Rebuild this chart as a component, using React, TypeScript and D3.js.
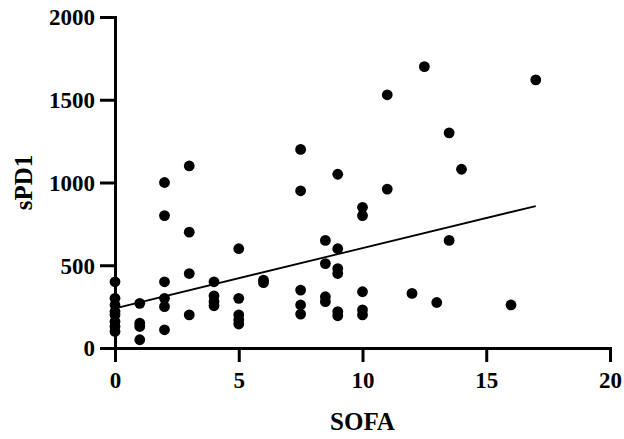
import React, { useEffect, useRef } from "react"
import * as d3 from "d3"

// one entry per patient
const sofa = [
  0, 0, 0, 0, 0, 0, 0, 0,
  1, 1, 1, 1,
  2, 2, 2, 2, 2, 2,
  3, 3, 3, 3,
  4, 4, 4, 4,
  5, 5, 5, 5, 5,
  6, 6,
  7.5, 7.5, 7.5, 7.5, 7.5,
  8.5, 8.5, 8.5, 8.5,
  9, 9, 9, 9, 9, 9,
  10, 10, 10, 10, 10,
  11, 11,
  12, 12.5, 13,
  13.5, 13.5,
  14, 16, 17,
]
const spd1 = [
  400, 300, 260, 220, 200, 160, 130, 100,
  270, 150, 130, 50,
  1000, 800, 400, 300, 250, 110,
  1100, 700, 450, 200,
  400, 315, 280, 255,
  600, 300, 200, 170, 145,
  410, 395,
  1200, 950, 350, 260, 205,
  650, 510, 310, 280,
  1050, 600, 480, 450, 220, 195,
  850, 800, 340, 230, 200,
  1530, 960,
  330, 1700, 275,
  1300, 650,
  1080, 260, 1620,
]
// fitted line as printed in the figure (start / end in data units)
const fitSofa = [0, 17]
const fitSpd1 = [240, 858]

const xTicks = [0, 5, 10, 15, 20]
const yTicks = [0, 500, 1000, 1500, 2000]

const width = 624
const height = 439
const margin = { top: 17, right: 14, bottom: 91, left: 115 }
const font = "Liberation Serif, Times New Roman, serif"

export default function App() {
  const ref = useRef<SVGSVGElement>(null)

  useEffect(() => {
    const svg = d3.select(ref.current)
    svg.selectAll("*").remove()

    const x = d3.scaleLinear().domain([0, 20]).range([margin.left, width - margin.right])
    const y = d3.scaleLinear().domain([0, 2000]).range([height - margin.bottom, margin.top])

    const points = sofa.map((s, i) => ({ s, v: spd1[i] }))
    const fit = fitSofa.map((s, i) => [s, fitSpd1[i]] as [number, number])

    svg.append("path")
      .datum(fit)
      .attr("d", d3.line<[number, number]>().x(d => x(d[0])).y(d => y(d[1])))
      .attr("fill", "none")
      .attr("stroke", "#000")
      .attr("stroke-width", 1.8)

    svg.append("g")
      .selectAll("circle")
      .data(points)
      .join("circle")
      .attr("cx", d => x(d.s))
      .attr("cy", d => y(d.v))
      .attr("r", 5.4)
      .attr("fill", "#000")

    const xAxis = svg.append("g")
      .attr("transform", `translate(0,${y(0)})`)
      .call(d3.axisBottom(x).tickValues(xTicks).tickFormat(d3.format("d")).tickSize(14).tickSizeOuter(0).tickPadding(10))
    const yAxis = svg.append("g")
      .attr("transform", `translate(${x(0)},0)`)
      .call(d3.axisLeft(y).tickValues(yTicks).tickFormat(d3.format("d")).tickSize(15).tickSizeOuter(0).tickPadding(5))

    for (const g of [xAxis, yAxis]) {
      g.attr("font-family", font).attr("font-size", 23).attr("font-weight", "bold")
      g.select(".domain").attr("stroke-width", 3).attr("stroke-linecap", "square")
      g.selectAll(".tick line").attr("stroke-width", 3)
      g.selectAll(".tick text").attr("fill", "#000")
    }
    yAxis.selectAll(".tick text").attr("dy", "0.34em")

    svg.append("text")
      .attr("x", (x(0) + x(20)) / 2)
      .attr("y", 430)
      .attr("text-anchor", "middle")
      .attr("font-family", font)
      .attr("font-weight", "bold")
      .attr("font-size", 25)
      .text("SOFA")

    svg.append("text")
      .attr("transform", `translate(32,${(y(0) + y(2000)) / 2}) rotate(-90)`)
      .attr("text-anchor", "middle")
      .attr("font-family", font)
      .attr("font-weight", "bold")
      .attr("font-size", 25)
      .text("sPD1")
  }, [])

  return (
    <svg
      ref={ref}
      width={width}
      height={height}
      style={{ position: "absolute", left: 0, top: 0, background: "#fff" }}
    />
  )
}
